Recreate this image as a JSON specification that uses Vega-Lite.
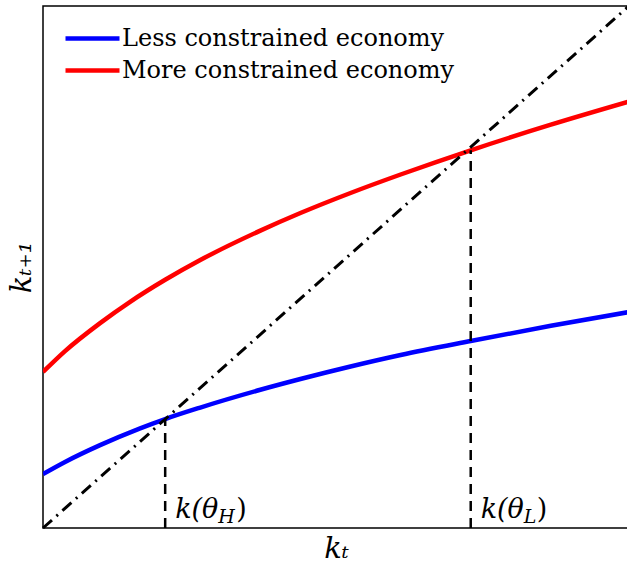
{
  "$schema": "https://vega.github.io/schema/vega-lite/v6.json",
  "width": 586,
  "height": 522,
  "autosize": {"type": "none"},
  "padding": {"left": 43, "top": 6, "right": 0, "bottom": 39},
  "background": "white",
  "config": {
    "view": {"stroke": "black", "strokeWidth": 1.5},
    "font": "DejaVu Serif"
  },
  "datasets": {
    "curves": [
      {"series": "Less constrained economy", "x": 0.0, "y": 0.1034},
      {"series": "Less constrained economy", "x": 0.0376, "y": 0.1266},
      {"series": "Less constrained economy", "x": 0.0974, "y": 0.1588},
      {"series": "Less constrained economy", "x": 0.1658, "y": 0.191},
      {"series": "Less constrained economy", "x": 0.2085, "y": 0.2088},
      {"series": "Less constrained economy", "x": 0.2684, "y": 0.2308},
      {"series": "Less constrained economy", "x": 0.3709, "y": 0.2648},
      {"series": "Less constrained economy", "x": 0.4393, "y": 0.2854},
      {"series": "Less constrained economy", "x": 0.5248, "y": 0.3094},
      {"series": "Less constrained economy", "x": 0.6103, "y": 0.3314},
      {"series": "Less constrained economy", "x": 0.7299, "y": 0.3582},
      {"series": "Less constrained economy", "x": 0.8667, "y": 0.3874},
      {"series": "Less constrained economy", "x": 1.0, "y": 0.4138},
      {"series": "More constrained economy", "x": 0.0, "y": 0.2989},
      {"series": "More constrained economy", "x": 0.0376, "y": 0.3389},
      {"series": "More constrained economy", "x": 0.0974, "y": 0.3925},
      {"series": "More constrained economy", "x": 0.1487, "y": 0.4333},
      {"series": "More constrained economy", "x": 0.2085, "y": 0.4755},
      {"series": "More constrained economy", "x": 0.2684, "y": 0.5134},
      {"series": "More constrained economy", "x": 0.3709, "y": 0.5697},
      {"series": "More constrained economy", "x": 0.4393, "y": 0.6034},
      {"series": "More constrained economy", "x": 0.5248, "y": 0.6418},
      {"series": "More constrained economy", "x": 0.6103, "y": 0.6772},
      {"series": "More constrained economy", "x": 0.7299, "y": 0.7236},
      {"series": "More constrained economy", "x": 0.8667, "y": 0.7726},
      {"series": "More constrained economy", "x": 1.0, "y": 0.8169}
    ],
    "diag": [
      {"x": 0.0, "y": 0.0},
      {"x": 1.0, "y": 1.0}
    ],
    "steady": [
      {"name": "H", "x": 0.2085, "y": 0.0, "y2": 0.2088, "lab": "k(θ"},
      {"name": "L", "x": 0.7299, "y": 0.0, "y2": 0.7236, "lab": "k(θ"}
    ]
  },
  "layer": [
    {
      "data": {"name": "curves"},
      "mark": {"type": "line", "strokeWidth": 4.5, "interpolate": "monotone", "clip": true},
      "encoding": {
        "x": {
          "field": "x", "type": "quantitative",
          "scale": {"domain": [0, 1], "nice": false, "zero": false},
          "axis": {"title": "kₜ", "labels": false, "ticks": false, "grid": false, "domain": false,
                   "titleFont": "DejaVu Serif", "titleFontStyle": "italic", "titleFontWeight": "normal",
                   "titleFontSize": 29, "titlePadding": 6, "titleColor": "black"}
        },
        "y": {
          "field": "y", "type": "quantitative",
          "scale": {"domain": [0, 1], "nice": false, "zero": false},
          "axis": {"title": "kₜ₊₁", "labels": false, "ticks": false, "grid": false, "domain": false,
                   "titleFont": "DejaVu Serif", "titleFontStyle": "italic", "titleFontWeight": "normal",
                   "titleFontSize": 29, "titlePadding": 7, "titleColor": "black"}
        },
        "color": {
          "field": "series", "type": "nominal",
          "scale": {"domain": ["Less constrained economy", "More constrained economy"], "range": ["#0000ff", "#ff0000"]},
          "legend": {
            "title": null, "orient": "none", "legendX": 32, "legendY": 15,
            "symbolType": "M-1.8,0H1.8", "symbolSize": 900, "symbolStrokeWidth": 4.5,
            "labelFont": "DejaVu Serif", "labelFontSize": 24, "labelColor": "black",
            "labelOffset": 12, "rowPadding": 2, "labelLimit": 500
          }
        }
      }
    },
    {
      "data": {"name": "diag"},
      "mark": {"type": "line", "color": "black", "strokeWidth": 3, "strokeDash": [12, 6, 2, 6]},
      "encoding": {
        "x": {"field": "x", "type": "quantitative"},
        "y": {"field": "y", "type": "quantitative"}
      }
    },
    {
      "data": {"name": "steady"},
      "mark": {"type": "rule", "color": "black", "strokeWidth": 2.5, "strokeDash": [10, 7]},
      "encoding": {
        "x": {"field": "x", "type": "quantitative"},
        "y": {"field": "y", "type": "quantitative"},
        "y2": {"field": "y2"}
      }
    },
    {
      "data": {"name": "steady"},
      "mark": {"type": "text", "align": "left", "baseline": "alphabetic", "dx": 10, "dy": -10,
               "font": "DejaVu Serif", "fontStyle": "italic", "fontSize": 27, "color": "black"},
      "encoding": {
        "x": {"field": "x", "type": "quantitative"},
        "y": {"field": "y", "type": "quantitative"},
        "text": {"field": "lab"}
      }
    },
    {
      "data": {"name": "steady"},
      "mark": {"type": "text", "align": "left", "baseline": "alphabetic", "dx": 53, "dy": -5,
               "font": "DejaVu Serif", "fontStyle": "italic", "fontSize": 19, "color": "black"},
      "encoding": {
        "x": {"field": "x", "type": "quantitative"},
        "y": {"field": "y", "type": "quantitative"},
        "text": {"field": "name"}
      }
    },
    {
      "data": {"name": "steady"},
      "transform": [{"filter": "datum.name === 'H'"}],
      "mark": {"type": "text", "align": "left", "baseline": "alphabetic", "dx": 71, "dy": -10,
               "font": "DejaVu Serif", "fontSize": 27, "color": "black", "text": ")"},
      "encoding": {
        "x": {"field": "x", "type": "quantitative"},
        "y": {"field": "y", "type": "quantitative"}
      }
    },
    {
      "data": {"name": "steady"},
      "transform": [{"filter": "datum.name === 'L'"}],
      "mark": {"type": "text", "align": "left", "baseline": "alphabetic", "dx": 66, "dy": -10,
               "font": "DejaVu Serif", "fontSize": 27, "color": "black", "text": ")"},
      "encoding": {
        "x": {"field": "x", "type": "quantitative"},
        "y": {"field": "y", "type": "quantitative"}
      }
    }
  ]
}
